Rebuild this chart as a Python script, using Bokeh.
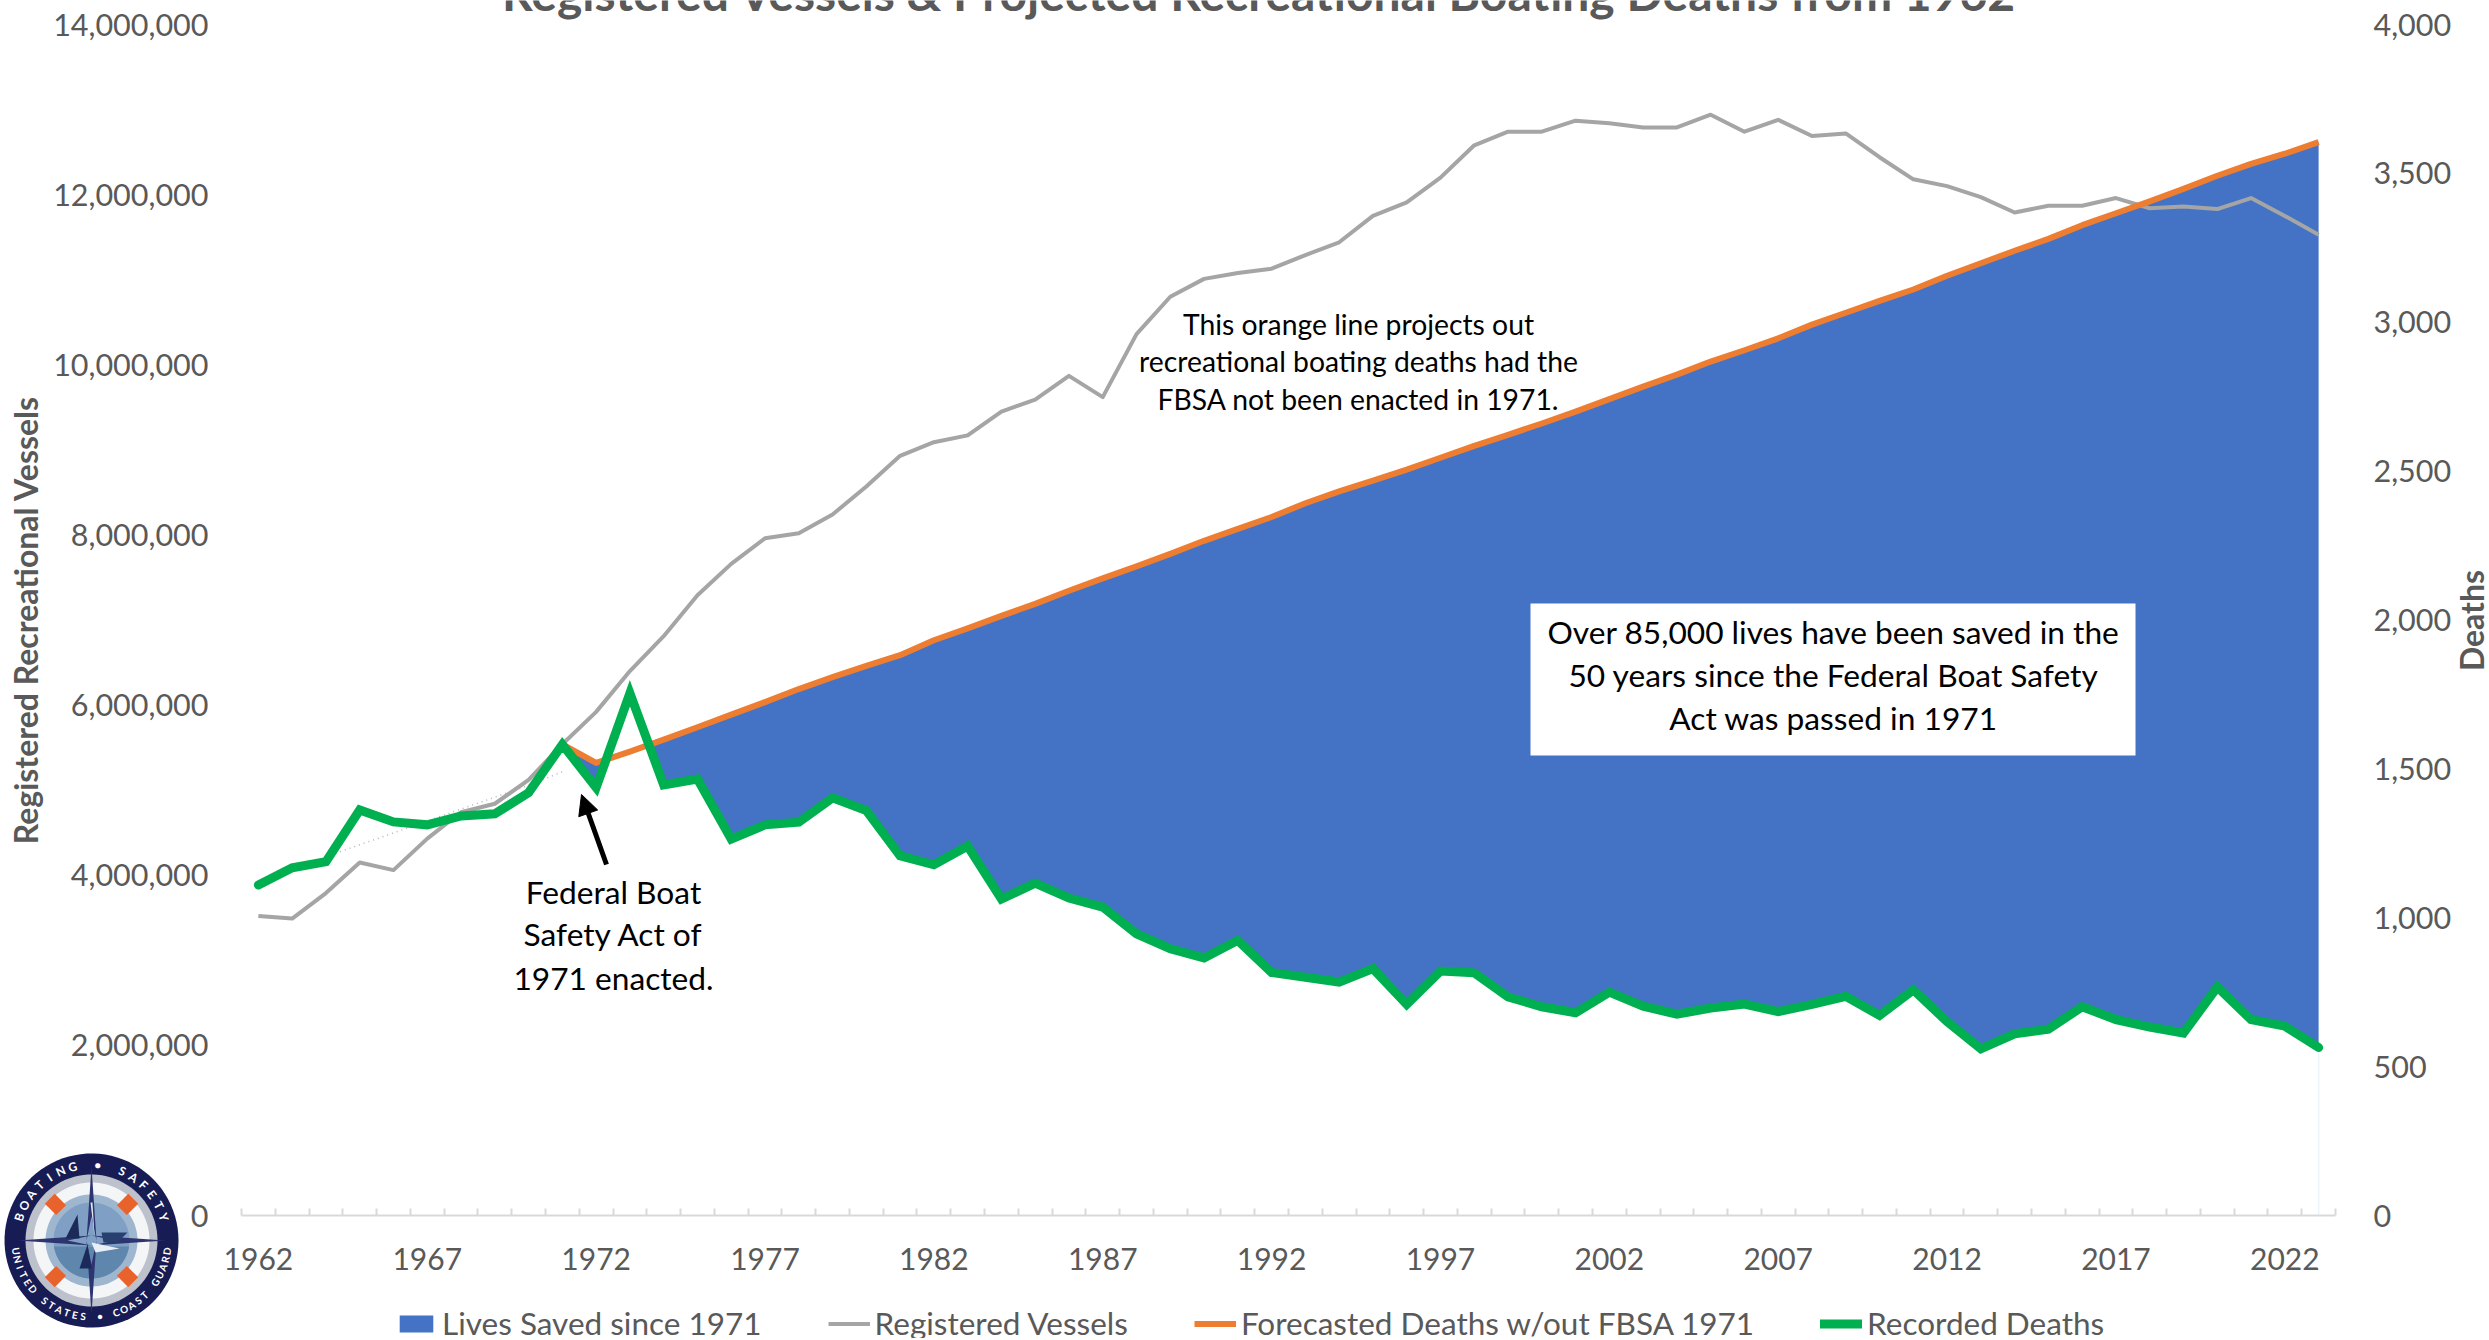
import numpy as np
from bokeh.embed import file_html
from bokeh.resources import INLINE
from bokeh.plotting import figure
from bokeh.models import (Range1d, LinearAxis, FixedTicker, NumeralTickFormatter, Label, BoxAnnotation,
                          Arrow, NormalHead, Legend, LegendItem)

FONT = "Lato"
TXT = "#595959"

years = list(range(1962, 2024))
deaths = [1110, 1168, 1188, 1362, 1322, 1312, 1342, 1349, 1420, 1582, 1437, 1754, 1446, 1466, 1264, 1312,
          1321, 1403, 1360, 1208, 1178, 1241, 1063, 1116, 1066, 1036, 946, 896, 865, 924, 816, 800, 784,
          829, 709, 821, 815, 734, 701, 681, 750, 703, 676, 697, 710, 685, 709, 736, 672, 758, 651, 560,
          610, 626, 701, 658, 633, 613, 767, 658, 636, 564]
vessels = [3.52, 3.49, 3.79, 4.15, 4.06, 4.43, 4.74, 4.84, 5.12, 5.54, 5.92, 6.40, 6.81, 7.29, 7.66, 7.96,
           8.02, 8.24, 8.57, 8.93, 9.09, 9.17, 9.45, 9.59, 9.87, 9.62, 10.36, 10.80, 11.01, 11.08, 11.13,
           11.29, 11.44, 11.75, 11.91, 12.20, 12.58, 12.74, 12.74, 12.87, 12.84, 12.79, 12.79, 12.94, 12.74,
           12.88, 12.69, 12.72, 12.44, 12.18, 12.10, 11.97, 11.79, 11.87, 11.87, 11.96, 11.84, 11.86, 11.83,
           11.96, 11.75, 11.53]
forecast_years = list(range(1971, 2024))
forecast = [1582, 1520, 1558, 1598, 1640, 1682, 1724, 1768, 1808, 1846, 1882, 1932, 1972, 2014, 2054, 2098,
            2140, 2180, 2222, 2266, 2306, 2346, 2392, 2432, 2468, 2505, 2545, 2585, 2622, 2660, 2700, 2742,
            2784, 2824, 2868, 2906, 2946, 2992, 3032, 3072, 3110, 3156, 3198, 3240, 3280, 3326, 3366, 3406,
            3448, 3492, 3532, 3566, 3605]
trend_years = [1964, 1965, 1966, 1967, 1968, 1969, 1970, 1971]
trend = [1205, 1245, 1285, 1325, 1365, 1405, 1445, 1490]
tick_years = list(range(1962, 2023, 5))
title = "Registered Vessels & Projected Recreational Boating Deaths from 1962"
legend_labels = ["Lives Saved since 1971", "Registered Vessels", "Forecasted Deaths w/out FBSA 1971", "Recorded Deaths"]

# blue band: green-to-orange wherever the forecast sits above the recorded deaths
fy = np.array(forecast_years, float)
fo = np.array(forecast, float)
fd = np.array(deaths[9:], float)
xs = list(fy)
diff = fo - fd
for i in range(len(fy) - 1):
    if diff[i] * diff[i + 1] < 0:
        xs.append(fy[i] + diff[i] / (diff[i] - diff[i + 1]))
xs = np.array(sorted(xs))
lo = np.interp(xs, fy, fd)
hi = np.maximum(np.interp(xs, fy, fo), lo)

p = figure(width=2489, height=1340, output_backend="svg", toolbar_location=None,
           x_range=Range1d(1961.5, 2023.5), y_range=Range1d(0, 14000000),
           min_border_left=241, min_border_right=154, min_border_top=24, min_border_bottom=125,
           background_fill_color="white", border_fill_color="white", outline_line_color=None)
p.grid.visible = False
p.extra_y_ranges = {"deaths": Range1d(0, 4000), "py": Range1d(1215, 24)}
p.extra_x_ranges = {"px": Range1d(241, 2335)}

# axes
xa = p.xaxis[0]
xa.ticker = FixedTicker(ticks=tick_years, minor_ticks=[y - 0.5 for y in range(1962, 2025)])
xa.axis_line_color = "#d9d9d9"; xa.axis_line_width = 2
xa.major_tick_line_color = None
xa.minor_tick_line_color = "#d9d9d9"; xa.minor_tick_line_width = 2
xa.minor_tick_in = 7; xa.minor_tick_out = 0
xa.major_label_text_font = FONT; xa.major_label_text_font_size = "30px"
xa.major_label_text_color = TXT; xa.major_label_standoff = 26

ya = p.yaxis[0]
ya.ticker = FixedTicker(ticks=list(range(0, 14000001, 2000000)))
ya.formatter = NumeralTickFormatter(format="0,0")
ya.axis_line_color = None; ya.major_tick_line_color = None; ya.minor_tick_line_color = None
ya.major_label_text_font = FONT; ya.major_label_text_font_size = "30.5px"
ya.major_label_text_color = TXT; ya.major_label_standoff = 27
ya.axis_label = "Registered Recreational Vessels"
ya.axis_label_text_font = FONT; ya.axis_label_text_font_size = "32px"
ya.axis_label_text_font_style = "bold"; ya.axis_label_text_color = TXT
ya.axis_label_standoff = 5

ra = LinearAxis(y_range_name="deaths", ticker=FixedTicker(ticks=list(range(0, 4001, 500))),
                formatter=NumeralTickFormatter(format="0,0"))
ra.axis_line_color = None; ra.major_tick_line_color = None; ra.minor_tick_line_color = None
ra.major_label_text_font = FONT; ra.major_label_text_font_size = "30.5px"
ra.major_label_text_color = TXT; ra.major_label_standoff = 32
p.add_layout(ra, "right")

# series
p.varea(x=xs, y1=lo, y2=hi, fill_color="#4472c4", y_range_name="deaths")
p.segment(x0=[years[-1]], y0=[deaths[-1]], x1=[years[-1]], y1=[0], line_color="#eef2fa", line_width=1.5,
          y_range_name="deaths")
p.line(trend_years, trend, line_color="#b5b5b5", line_width=1.5, line_dash="1 4", y_range_name="deaths")
p.line(years, [v * 1e6 for v in vessels], line_color="#a5a5a5", line_width=4, line_join="round")
p.line(forecast_years, forecast, line_color="#ed7d31", line_width=6, y_range_name="deaths", line_join="round")
p.line(years, deaths, line_color="#00b050", line_width=9, y_range_name="deaths", line_join="miter", line_cap="round")

def lab(x, y, text, size, color="black", style="normal", align="center", base="middle", angle=0, font=FONT):
    p.add_layout(Label(x=x, y=y, text=text, x_range_name="px", y_range_name="py", text_font=font,
                       text_font_size=f"{size}px", text_color=color, text_font_style=style, text_align=align,
                       text_baseline=base, angle=angle))

# callouts
p.add_layout(BoxAnnotation(left=1530, right=2135, top=603, bottom=755, x_range_name="px", y_range_name="py",
                           fill_color="white", fill_alpha=1, line_color=None))
for y, t in zip([631.5, 674.5, 717.5], ["Over 85,000 lives have been saved in the", "50 years since the Federal Boat Safety",
                                        "Act was passed in 1971"]):
    lab(1833, y, t, 31.7)
for y, t in zip([323.5, 360.5, 398.5], ["This orange line projects out", "recreational boating deaths had the",
                                        "FBSA not been enacted in 1971."]):
    lab(1358, y, t, 28.3)
for y, t in zip([891, 933, 977], ["Federal Boat", "Safety Act of", "1971 enacted."]):
    lab(613, y, t, 31.7)
p.add_layout(Arrow(x_start=606, y_start=864, x_end=581, y_end=794, x_range_name="px", y_range_name="py",
                   line_color="black", line_width=5,
                   end=NormalHead(size=20, fill_color="black", line_color="black")))

# page-wide transparent figure for the texts that sit outside the plot frame
O = figure(width=2489, height=1340, output_backend="svg", toolbar_location=None, x_axis_type=None, y_axis_type=None,
           x_range=Range1d(0, 2489), y_range=Range1d(1340, 0), min_border=0, outline_line_color=None,
           background_fill_alpha=0, border_fill_alpha=0)
O.grid.visible = False
O.styles = {"position": "absolute", "left": "0px", "top": "0px"}
# title, cut by the page's top edge as in the reference
O.add_layout(Label(x=1259, y=-8, text=title, text_font=FONT, text_font_size="48px", text_color=TXT,
                   text_font_style="bold", text_align="center", text_baseline="alphabetic"))
# right axis title reads upward in the reference
O.add_layout(Label(x=2471, y=620, text="Deaths", text_font=FONT, text_font_size="32px", text_color=TXT,
                   text_font_style="bold", text_align="center", text_baseline="middle", angle=np.pi / 2))

# legend strip
L = figure(width=1800, height=34, output_backend="svg", toolbar_location=None, x_axis_type=None, y_axis_type=None,
           x_range=Range1d(0, 1), y_range=Range1d(0, 1), min_border=0, outline_line_color=None,
           background_fill_alpha=0, border_fill_alpha=0)
L.grid.visible = False
L.styles = {"position": "absolute", "left": "395px", "top": "1304px"}
off = [-2, -1]
k0 = L.varea(x=off, y1=[0, 0], y2=[1, 1], fill_color="#4472c4")
k1 = L.line(off, [0, 0], line_color="#a5a5a5", line_width=4)
k2 = L.line(off, [0, 0], line_color="#ed7d31", line_width=6)
k3 = L.line(off, [0, 0], line_color="#00b050", line_width=9, line_cap="round")
L.add_layout(Legend(items=[LegendItem(label=t, renderers=[r]) for t, r in zip(legend_labels, [k0, k1, k2, k3])],
                    orientation="horizontal", location="top_left", spacing=66, padding=0, margin=0,
                    glyph_width=42, glyph_height=21, label_standoff=5, border_line_color=None,
                    background_fill_alpha=0, label_text_font=FONT, label_text_font_size="31.5px",
                    label_text_color=TXT, label_height=21), "center")

# boating safety emblem
S = 180
q = figure(width=S, height=S, output_backend="svg", toolbar_location=None, x_axis_type=None, y_axis_type=None,
           x_range=Range1d(0, S), y_range=Range1d(S, 0), min_border=0, outline_line_color=None,
           background_fill_alpha=0, border_fill_alpha=0)
q.grid.visible = False
q.styles = {"position": "absolute", "left": "1px", "top": "1150px"}
cx, cy = 90, 90

def poly(xs_, ys_, color):
    q.patch(list(xs_), list(ys_), fill_color=color, line_color=None)
def disc(r, color):
    t = np.linspace(0, 2 * np.pi, 90)
    poly(cx + r * np.cos(t), cy + r * np.sin(t), color)

disc(87, "#171c55")
disc(66, "#bcc1cc")
disc(58, "#f4f5f7")
disc(46, "#9fb6cf")
disc(38, "#7fa0c4")
t2 = np.linspace(0.05 * np.pi, 0.95 * np.pi, 40)
poly(cx + 38 * np.cos(t2), cy + 38 * np.sin(t2), "#5f86ad")
for a in [45, 135, 225, 315]:
    r = np.radians(a)
    mx, my = cx + 51 * np.cos(r), cy + 51 * np.sin(r)
    u, v = np.cos(r), np.sin(r)
    poly([mx - 8 * u - 7 * v, mx + 8 * u - 7 * v, mx + 8 * u + 7 * v, mx - 8 * u + 7 * v],
         [my - 8 * v + 7 * u, my + 8 * v + 7 * u, my + 8 * v - 7 * u, my - 8 * v - 7 * u], "#e8622c")
for dx, dy in [(0, -1), (1, 0), (0, 1), (-1, 0)]:
    poly([cx + 5 * dy, cx + 74 * dx, cx - 5 * dy, cx + 24 * dx],
         [cy + 5 * dx, cy + 74 * dy, cy - 5 * dx, cy + 24 * dy], "#2d3470")
poly([cx - 26, cx - 14, cx - 12], [cy - 2, cy - 26, cy - 2], "#1c2a5a")
poly([cx + 10, cx + 36, cx + 26, cx + 12], [cy - 8, cy - 8, cy + 2, cy + 2], "#27406f")
poly([cx - 12, cx - 4, cx], [cy + 28, cy + 4, cy + 28], "#1c2a5a")
poly([cx, cx + 28, cx + 4], [cy + 2, cy + 8, cy + 12], "#e9eef5")
poly([cx - 1, cx + 1, cx + 3, cx + 3], [cy - 38, cy - 38, cy - 4, cy - 4], "#dfe6ef")

def arc_text(text, a0, a1, top):
    n = len(text)
    for i, ch in enumerate(text):
        if ch == " ":
            continue
        a = np.radians(a0 + (a1 - a0) * i / (n - 1))
        size, sy, ang = (12, -1, -a) if top else (10, 1, a)
        q.add_layout(Label(x=cx + 76 * np.sin(a), y=cy + sy * 76 * np.cos(a), text=ch, text_font=FONT,
                           text_font_size=f"{size}px", text_color="white", text_font_style="bold",
                           text_align="center", text_baseline="middle", angle=ang))
arc_text("BOATING \u2022 SAFETY", -72, 72, True)
arc_text("UNITED STATES \u2022 COAST GUARD", -82, 82, False)

open("out.html", "w").write(file_html([p, O, L, q], INLINE))
